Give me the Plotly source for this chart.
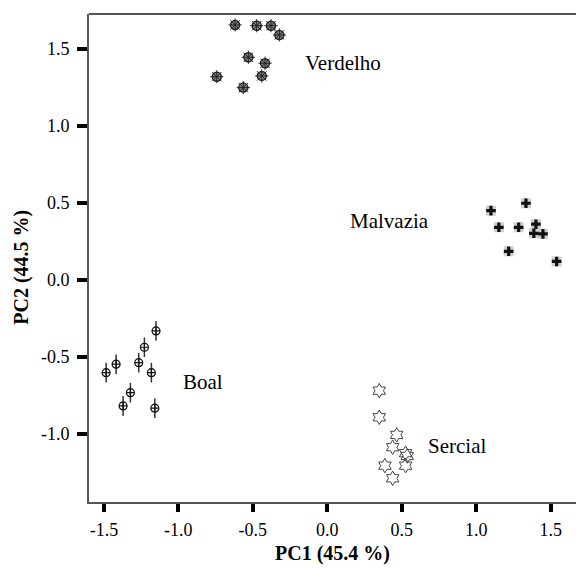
import plotly.graph_objects as go

# ---- data ----
verdelho_x = [-0.619, -0.474, -0.378, -0.322, -0.530, -0.418, -0.742, -0.440, -0.564]
verdelho_y = [1.656, 1.651, 1.651, 1.591, 1.446, 1.407, 1.320, 1.325, 1.249]

malvazia_x = [1.334, 1.099, 1.152, 1.285, 1.401, 1.387, 1.448, 1.218, 1.540]
malvazia_y = [0.498, 0.450, 0.342, 0.342, 0.362, 0.303, 0.299, 0.186, 0.120]

boal_x = [-1.150, -1.228, -1.418, -1.266, -1.485, -1.181, -1.322, -1.371, -1.158]
boal_y = [-0.331, -0.437, -0.547, -0.537, -0.602, -0.602, -0.732, -0.818, -0.833]

sercial_x = [0.349, 0.349, 0.466, 0.439, 0.526, 0.537, 0.387, 0.526, 0.439]
sercial_y = [-0.719, -0.892, -1.006, -1.086, -1.125, -1.143, -1.206, -1.206, -1.288]

group_names = ["Verdelho", "Malvazia", "Boal", "Sercial"]
label_x = [-0.16, 0.14, -0.98, 0.66]
label_y = [1.41, 0.38, -0.66, -1.08]

x_ticks = [-1.5, -1.0, -0.5, 0.0, 0.5, 1.0, 1.5]
x_ticktext = ["-1.5", "-1.0", "-0.5", "0.0", "0.5", "1.0", "1.5"]
y_ticks = [-1.0, -0.5, 0.0, 0.5, 1.0, 1.5]
y_ticktext = ["-1.0", "-0.5", "0.0", "0.5", "1.0", "1.5"]

x_title = "PC1 (45.4 %)"
y_title = "PC2 (44.5 %)"

FONT = "Liberation Serif, Times New Roman, serif"

fig = go.Figure()

# Verdelho: grey disc with spokes
fig.add_trace(go.Scatter(x=verdelho_x, y=verdelho_y, mode="markers", name="Verdelho",
                         marker=dict(symbol="circle", size=9, color="#8a8a8a",
                                     line=dict(color="#222222", width=1.5))))
fig.add_trace(go.Scatter(x=verdelho_x, y=verdelho_y, mode="markers", showlegend=False,
                         marker=dict(symbol="asterisk-open", size=11, color="#222222",
                                     line=dict(color="#222222", width=1))))

# Malvazia: black cross on a light square
fig.add_trace(go.Scatter(x=malvazia_x, y=malvazia_y, mode="markers", name="Malvazia",
                         marker=dict(symbol="square", size=10, color="#d0d0d0",
                                     line=dict(width=0))))
fig.add_trace(go.Scatter(x=malvazia_x, y=malvazia_y, mode="markers", showlegend=False,
                         marker=dict(symbol="cross", size=8, color="#111111",
                                     line=dict(width=0))))

# Boal: open circle with a cross and a long stem
fig.add_trace(go.Scatter(x=boal_x, y=boal_y, mode="markers", name="Boal",
                         marker=dict(symbol="line-ns-open", size=14, color="#333333",
                                     line=dict(color="#333333", width=1.5))))
fig.add_trace(go.Scatter(x=boal_x, y=boal_y, mode="markers", showlegend=False,
                         marker=dict(symbol="circle-cross-open", size=8, color="#111111",
                                     line=dict(color="#111111", width=1.2))))

# Sercial: open star of David
fig.add_trace(go.Scatter(x=sercial_x, y=sercial_y, mode="markers", name="Sercial",
                         marker=dict(symbol="hexagram-open", size=11, color="#444444",
                                     line=dict(color="#444444", width=1))))

for name, lx, ly in zip(group_names, label_x, label_y):
    fig.add_annotation(x=lx, y=ly, text=name, showarrow=False, xanchor="left",
                       yanchor="middle", font=dict(family=FONT, size=21, color="black"))

# axis titles
fig.add_annotation(xref="paper", yref="paper", x=0.5, y=0, yshift=-51,
                   xanchor="center", yanchor="middle", showarrow=False,
                   text="<b>" + x_title + "</b>",
                   font=dict(family=FONT, size=20, color="black"))
fig.add_annotation(xref="paper", yref="paper", x=0, y=0.48, xshift=-67,
                   xanchor="center", yanchor="middle", showarrow=False, textangle=-90,
                   text="<b>" + y_title + "</b>",
                   font=dict(family=FONT, size=20, color="black"))

# top frame line (no right side in the reference)
fig.add_shape(type="line", xref="paper", yref="paper", x0=0, x1=1, y0=1, y1=1,
              line=dict(color="#555555", width=2))

fig.update_layout(
    width=576, height=568,
    margin=dict(l=89, r=0, t=14, b=66),
    paper_bgcolor="white", plot_bgcolor="white",
    showlegend=False,
    font=dict(family=FONT, size=18, color="black"),
    xaxis=dict(range=[-1.6, 1.67], tickvals=x_ticks, ticktext=x_ticktext,
               ticks="outside", ticklen=8, tickwidth=4, tickcolor="black",
               ticklabelstandoff=2,
               showline=True, linecolor="#555555", linewidth=2,
               showgrid=False, zeroline=False,
               tickfont=dict(family=FONT, size=18, color="black")),
    yaxis=dict(range=[-1.442, 1.727], tickvals=y_ticks, ticktext=y_ticktext,
               ticks="outside", ticklen=10, tickwidth=4, tickcolor="black",
               ticklabelstandoff=4,
               showline=True, linecolor="#555555", linewidth=2,
               showgrid=False, zeroline=False,
               tickfont=dict(family=FONT, size=18, color="black")),
)

fig.write_html("out.html", config={"displayModeBar": False},
               post_script="document.body.style.margin='0';")
